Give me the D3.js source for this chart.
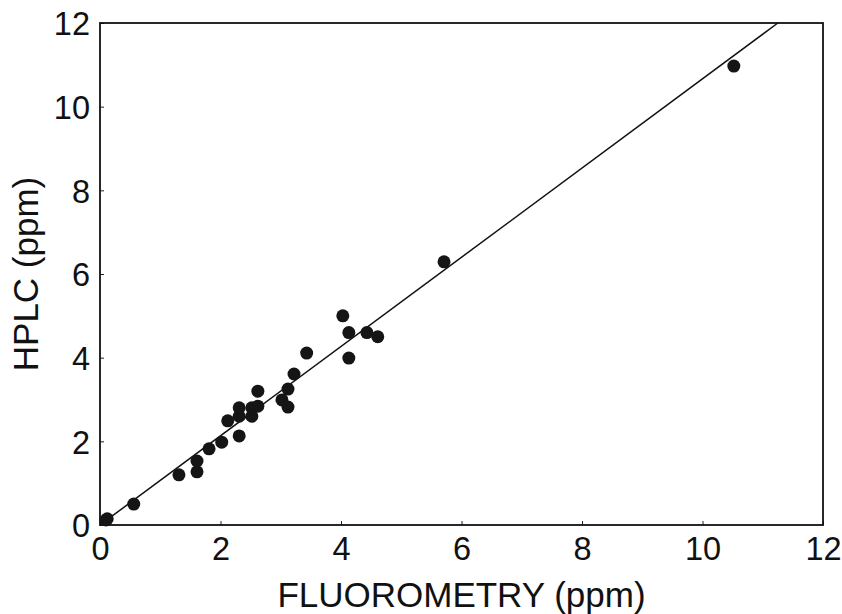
<!DOCTYPE html>
<html>
<head>
<meta charset="utf-8">
<script src="https://cdn.jsdelivr.net/npm/d3@7"></script>
<style>
  html, body { margin: 0; padding: 0; background: #fff; }
  svg { display: block; }
  text { font-family: "Liberation Sans", Arial, sans-serif; fill: #111; }
</style>
</head>
<body>
<svg id="chart" width="842" height="614"></svg>
<script>
// Data
const fluorometry = [0.1, 0.12, 0.56, 1.31, 1.61, 1.61, 1.81, 2.02, 2.31, 2.12, 2.31, 2.31, 2.52, 2.52, 2.62, 2.62, 3.02, 3.12, 3.12, 3.22, 3.43, 4.03, 4.13, 4.13, 4.43, 4.61, 5.71, 10.52];
const hplc        = [0.12, 0.15, 0.50, 1.20, 1.27, 1.53, 1.82, 1.98, 2.13, 2.49, 2.60, 2.80, 2.60, 2.80, 2.84, 3.20, 2.99, 2.82, 3.25, 3.61, 4.11, 5.00, 4.60, 3.99, 4.60, 4.50, 6.29, 10.97];
const xTicks = [0, 2, 4, 6, 8, 10, 12];
const yTicks = [0, 2, 4, 6, 8, 10, 12];
const fitLineX = [0.08, 11.25];
const fitSlope = 1.0667;
const fitIntercept = 0.0;
const xTitle = "FLUOROMETRY (ppm)";
const yTitle = "HPLC (ppm)";

const svg = d3.select("#chart");
const m = { left: 100, right: 842 - 823, top: 23, bottom: 614 - 525 };
const W = 842 - m.left - m.right;
const H = 614 - m.top - m.bottom;

const x = d3.scaleLinear().domain([0, 12]).range([m.left, m.left + W]);
const y = d3.scaleLinear().domain([0, 12]).range([m.top + H, m.top]);

// Axes with inward ticks
const xAxis = d3.axisBottom(x).tickValues(xTicks).tickSize(-4).tickPadding(12).tickFormat(d3.format("d"));
const yAxis = d3.axisLeft(y).tickValues(yTicks).tickSize(-4).tickPadding(10).tickFormat(d3.format("d"));

const gx = svg.append("g").attr("transform", `translate(0,${m.top + H})`).call(xAxis);
const gy = svg.append("g").attr("transform", `translate(${m.left},0)`).call(yAxis);
[gx, gy].forEach(g => {
  g.select(".domain").remove();
  g.selectAll(".tick line").attr("stroke", "#222").attr("stroke-width", 1);
  g.selectAll(".tick text").attr("font-size", 32.5).attr("fill", "#111")
    .style("font-family", '"Liberation Sans", Arial, sans-serif');
});
gx.selectAll(".tick text").attr("dy", "0.71em");
gy.selectAll(".tick text").attr("dy", "0.36em");

// Frame
svg.append("rect")
  .attr("x", m.left).attr("y", m.top).attr("width", W).attr("height", H)
  .attr("fill", "none").attr("stroke", "#111").attr("stroke-width", 1.8);

// Fit line
const line = d3.line().x(d => x(d)).y(d => y(fitSlope * d + fitIntercept));
svg.append("path").datum(fitLineX).attr("d", line)
  .attr("fill", "none").attr("stroke", "#111").attr("stroke-width", 1.5);

// Points
svg.append("g").selectAll("circle")
  .data(fluorometry.map((v, i) => [v, hplc[i]]))
  .join("circle")
  .attr("cx", d => x(d[0])).attr("cy", d => y(d[1])).attr("r", 6.5)
  .attr("fill", "#151515");

// Titles
svg.append("text").attr("x", m.left + W / 2).attr("y", 607)
  .attr("text-anchor", "middle").attr("font-size", 35).text(xTitle);
svg.append("text")
  .attr("transform", `translate(38,${m.top + H / 2}) rotate(-90)`)
  .attr("text-anchor", "middle").attr("font-size", 35).text(yTitle);
</script>
</body>
</html>
